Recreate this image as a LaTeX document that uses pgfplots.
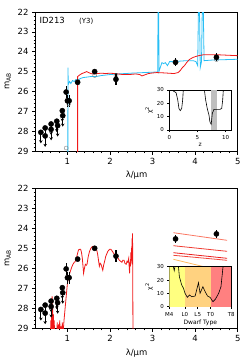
\documentclass[border=0pt]{standalone}
\usepackage{fontspec}
\setmainfont{DejaVu Sans}
\usepackage{pgfplots}
\pgfplotsset{compat=1.18}
\usetikzlibrary{arrows.meta}
\definecolor{specblue}{RGB}{40,190,245}
\definecolor{specred}{RGB}{240,25,25}
\definecolor{bdyellow}{RGB}{255,255,128}
\definecolor{bdorange}{RGB}{255,210,128}
\definecolor{bdred}{RGB}{255,128,128}
\definecolor{lnA}{RGB}{250,120,100}
\definecolor{lnB}{RGB}{240,60,50}
\definecolor{lnC}{RGB}{235,30,30}
\definecolor{lnD}{RGB}{240,70,60}
\definecolor{lnE}{RGB}{255,185,95}

\pgfplotsset{
 mainax/.style={scale only axis, width=202.2bp, height=139bp, xmin=0.25, xmax=5, ymin=22, ymax=29,
   y dir=reverse, xtick={1,2,3,4,5}, ytick={22,23,...,29},
   minor xtick={0.4,0.6,...,4.81}, minor ytick={22.2,22.4,...,28.9},
   tick align=outside, xtick pos=left, ytick pos=left,
   major tick length=3.5bp, minor tick length=2bp,
   every tick/.style={black, line width=0.6pt},
   axis line style={line width=0.8pt},
   tick label style={font=\fontsize{8.5}{9}\selectfont},
   /pgf/number format/assume math mode=true,
   label style={font=\fontsize{8.5}{9}\selectfont},
   xlabel={λ/μm}, ylabel={m\textsubscript{AB}},
   anchor=south west},
 inax/.style={scale only axis, width=62bp, height=40bp, ymin=0, ymax=30, ytick={0,10,20,30},
   tick align=outside, xtick pos=left, ytick pos=left, major tick length=2bp,
   every tick/.style={black, line width=0.5pt},
   tick label style={font=\fontsize{5.5}{6}\selectfont},
   /pgf/number format/assume math mode=true,
   label style={font=\fontsize{6}{6}\selectfont},
   ylabel={χ\textsuperscript{2}},
   xlabel style={yshift=3bp}, ylabel style={yshift=-3bp},
   axis background/.style={fill=white}, anchor=south west,
   axis line style={line width=0.6pt}},
}

\newcommand\phot{%
\addplot[black, line width=1.1bp, -{Stealth[length=3bp,width=3.5bp]},
  quiver={u=0, v=0.55}]
  coordinates {(0.376,28.06) (0.477,27.84) (0.477,28.24) (0.617,27.64) (0.617,27.91)
   (0.75,27.50) (0.77,27.72) (0.88,26.97) (0.89,27.22)};
\addplot[only marks, mark=*, mark size=2.6bp, black]
  coordinates {(0.376,28.06) (0.477,27.84) (0.477,28.24) (0.617,27.64) (0.617,27.91)
   (0.75,27.50) (0.77,27.72) (0.88,26.97) (0.89,27.22)};
\addplot[only marks, mark=*, mark size=2.6bp, black,
  error bars/.cd, y dir=both, y explicit, error mark=none,
  error bar style={line width=1.1bp}]
  coordinates {(0.97,26.03) +- (0,0.3) (1.00,26.47) +- (0,0.3) (1.04,26.47) +- (0,0.3)
   (1.24,25.54) +- (0,0.1) (1.64,25.00) +- (0,0.08) (2.14,25.39) +- (0,0.3)
   (3.54,24.53) +- (0,0.2) (4.50,24.28) +- (0,0.2)};
}

\begin{document}
\begin{tikzpicture}
\useasboundingbox (0,0) rectangle (249bp,-362bp);

% ---------- top panel ----------
\begin{axis}[mainax, at={(35.5bp,-151bp)}]
\addplot[specblue, line width=0.8pt] coordinates {
 (1.010,29.5) (1.012,24.8) (1.02,25.65) (1.05,25.5) (1.08,25.6) (1.12,25.45) (1.16,25.5)
 (1.2,25.4) (1.25,25.45) (1.3,25.35) (1.37,25.3) (1.45,25.28) (1.55,25.25) (1.67,25.25)
 (1.8,25.2) (2.0,25.15) (2.2,25.12) (2.5,25.08) (2.8,25.05) (3.12,25.02) (3.13,21.5)
 (3.145,21.5) (3.15,25.0) (3.18,24.8) (3.22,24.55) (3.26,24.6) (3.3,24.55) (3.35,24.7)
 (3.4,24.5) (3.5,24.5) (3.6,24.48) (3.8,24.45) (3.95,24.45) (4.02,24.5) (4.06,24.7)
 (4.08,21.5) (4.1,21.5) (4.12,24.8) (4.15,24.5) (4.17,21.5) (4.19,21.5) (4.21,24.45)
 (4.4,24.42) (4.7,24.4) (5.0,24.38)};
\addplot[specred, line width=0.8pt] coordinates {
 (1.24,29.5) (1.24,25.25) (1.27,25.2) (1.3,25.15) (1.34,25.1) (1.4,25.05) (1.45,25.0)
 (1.5,25.05) (1.55,25.1) (1.6,25.12) (1.7,25.1) (1.8,25.08) (1.9,25.1) (2.0,25.08)
 (2.1,25.1) (2.2,25.12) (2.3,25.15) (2.45,25.15) (2.6,25.12) (2.7,25.15) (2.75,25.22)
 (2.8,25.18) (2.9,25.1) (3.0,25.07) (3.1,25.05) (3.3,25.07) (3.5,25.1) (3.6,25.05)
 (3.65,24.95) (3.7,24.8) (3.75,24.7) (3.8,24.55) (3.86,24.4) (3.94,24.3) (4.0,24.25)
 (4.08,24.2) (4.2,24.15) (4.5,24.15) (4.8,24.18) (5.0,24.2)};
\addplot[only marks, mark=o, mark size=2bp, gray] coordinates {
 (0.97,28.85) (1.03,26.62) (1.24,25.5) (1.64,25.2) (2.14,25.2) (3.54,24.55) (4.5,24.4)};
\phot
\node[anchor=west, font=\fontsize{8.5}{9}\selectfont, inner sep=0pt] at (axis cs:0.343,22.42) {ID213};
\node[anchor=west, font=\fontsize{7}{8}\selectfont, inner sep=0pt] at (axis cs:1.27,22.47) {(Y3)};
\end{axis}

\begin{axis}[inax, at={(169.3bp,-130bp)}, xmin=0, xmax=11, xtick={0,5,10}, xlabel={z}]
\fill[gray!50] (axis cs:7.35,0) rectangle (axis cs:8.4,30);
\addplot[black, line width=0.6pt] coordinates {
 (0.2,31) (0.5,30) (0.8,29) (1.2,28) (1.5,22.5) (1.72,16) (1.95,14.5) (2.2,16.2)
 (2.37,22.5) (2.5,31)};
\addplot[black, line width=0.6pt] coordinates {
 (6.2,31) (6.45,22.5) (6.74,16) (7.04,11.2) (7.2,6.2) (7.43,4.2) (7.63,12.5) (7.93,15.5)
 (8.4,15.5) (9.0,15.5) (9.3,16.2) (9.47,22.5) (9.6,31)};
\node[anchor=south, font=\fontsize{6}{6}\selectfont, inner sep=1bp] at (axis cs:7.9,30) {z = 7.43};
\end{axis}

% ---------- bottom panel ----------
\begin{axis}[mainax, at={(35.5bp,-328.3bp)}, height=140bp]
\addplot[specred, line width=0.8pt] coordinates {
 (0.6,29.5) (0.61,28.6) (0.62,29.5) (0.63,28.0) (0.635,29.5) (0.64,27.4) (0.645,29.5)
 (0.655,27.9) (0.66,29.5) (0.67,28.3) (0.68,29.5) (0.69,28.6) (0.7,29.5) (0.75,29.5)
 (0.76,28.7) (0.77,29.5) (0.79,28.8) (0.8,29.5) (0.82,28.6) (0.83,29.5) (0.85,28.9)
 (0.86,29.5) (0.88,28.7) (0.89,29.5) (0.9,29.2) (0.92,28.6) (0.95,27.9) (0.98,27.2)
 (1.0,26.75) (1.03,26.45) (1.06,26.2) (1.1,25.95) (1.13,25.8) (1.16,25.7) (1.18,25.67)
 (1.21,25.5) (1.23,25.33) (1.26,25.08) (1.29,25.05) (1.31,25.05) (1.33,25.2) (1.35,25.5)
 (1.37,26.0) (1.38,26.25) (1.4,26.0) (1.42,25.8) (1.44,25.85) (1.46,25.8) (1.49,25.4)
 (1.52,25.15) (1.55,25.0) (1.58,24.92) (1.61,24.9) (1.64,24.93) (1.67,24.95) (1.69,25.1)
 (1.71,25.3) (1.73,25.6) (1.75,25.9) (1.77,25.75) (1.79,25.8) (1.81,25.95) (1.83,26.1)
 (1.85,25.85) (1.88,25.6) (1.9,25.4) (1.92,25.3) (1.95,25.15) (1.99,25.05) (2.02,25.05)
 (2.04,25.1) (2.07,25.2) (2.1,25.3) (2.13,25.35) (2.16,25.4) (2.19,25.5) (2.22,25.6)
 (2.25,25.65) (2.28,25.7) (2.3,25.6) (2.33,25.6) (2.35,25.75) (2.38,25.8) (2.4,25.65)
 (2.42,25.7) (2.44,25.5) (2.45,25.9) (2.46,26.25) (2.47,25.7) (2.48,25.9) (2.49,25.2)
 (2.5,25.6) (2.51,24.9) (2.515,25.8) (2.52,24.5) (2.525,25.3) (2.53,24.25) (2.535,26.5)
 (2.54,29.5)};
\addplot[lnA, line width=0.8pt] coordinates {(3.49,24.22) (4.75,24.60)};
\addplot[lnB, line width=0.8pt] coordinates {(3.49,24.87) (4.75,25.15)};
\addplot[lnC, line width=0.8pt] coordinates {(3.49,25.22) (4.75,25.50)};
\addplot[lnD, line width=0.8pt] coordinates {(3.49,25.35) (4.75,25.60)};
\addplot[lnE, line width=0.8pt] coordinates {(3.49,25.55) (4.75,26.20)};
\phot
\end{axis}

\begin{axis}[inax, at={(169.3bp,-306.7bp)}, xmin=0, xmax=24, xtick={0,6,11,16,24},
  xticklabels={M4,L0,L5,T0,T8}, xlabel={Dwarf Type}]
\fill[bdyellow] (axis cs:0,0) rectangle (axis cs:6,30);
\fill[bdorange] (axis cs:6,0) rectangle (axis cs:16,30);
\fill[bdred] (axis cs:16,0) rectangle (axis cs:24,30);
\addplot[black, line width=0.6pt] coordinates {(1.5,31) (1.9,27) (2.3,31)};
\addplot[black, line width=0.6pt] coordinates {
 (3.5,31) (3.9,22.5) (4.8,16.3) (5.5,13.8) (6.1,10) (7.0,7) (7.8,8.8) (8.7,7.5) (10.0,8)
 (11.3,18) (11.9,10) (13.0,15) (13.9,11.2) (14.8,8) (15.8,7) (16.9,3.75) (17.8,5.5)
 (19.1,10) (20.0,15) (20.8,30) (21,31)};
\end{axis}
\end{tikzpicture}
\end{document}
